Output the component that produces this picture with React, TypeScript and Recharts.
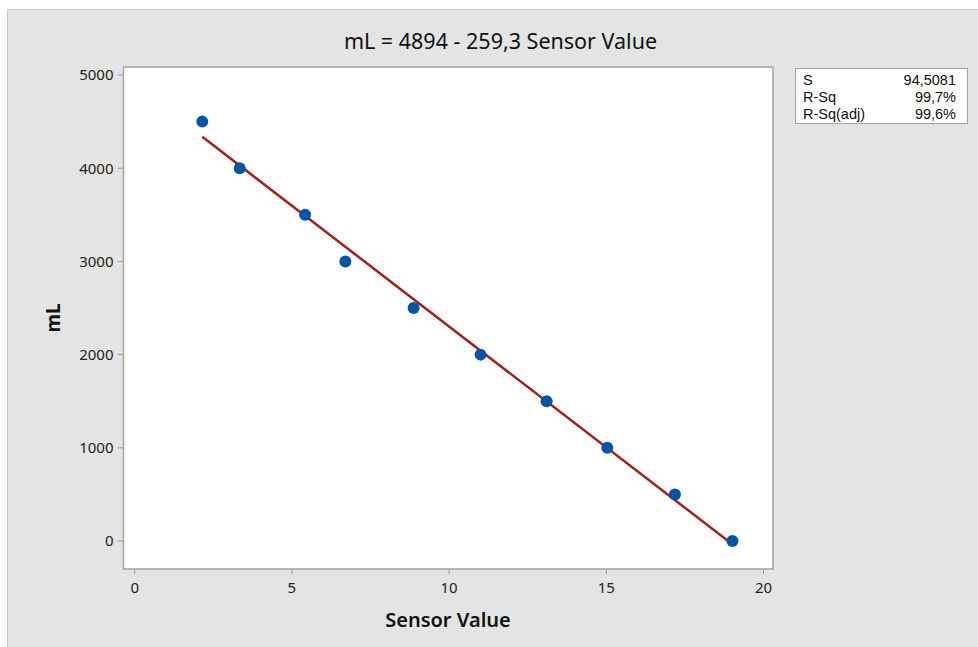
import { ComposedChart, Scatter, Line, XAxis, YAxis, ReferenceArea } from "recharts"

const sensorValues = [2.15, 3.34, 5.42, 6.7, 8.87, 11.0, 13.1, 15.03, 17.18, 19.01]
const mlValues = [4500, 4000, 3500, 3000, 2500, 2000, 1500, 1000, 500, 0]

// fitted line endpoints (mL = 4894 - 259,3 Sensor Value)
const fitSensor = [2.15, 19.01]
const fitMl = [4337, -35]

const xTicks = [0, 5, 10, 15, 20]
const yTicks = [0, 1000, 2000, 3000, 4000, 5000]

const statLabels = ["S", "R-Sq", "R-Sq(adj)"]
const statValues = ["94,5081", "99,7%", "99,6%"]

const FONT = '"Noto Sans", "Open Sans", sans-serif'

const points = sensorValues.map((x, i) => ({ x, y: mlValues[i] }))
const fitData = fitSensor.map((x, i) => ({ x, y: fitMl[i] }))

export default function App() {
  return (
    <div style={{ position: "absolute", left: 0, top: 0, width: 978, height: 647, background: "#fff", fontFamily: FONT }}>
      {/* gray panel */}
      <div
        style={{
          position: "absolute",
          left: 7,
          top: 9,
          right: 0,
          bottom: 0,
          background: "#e4e4e4",
          borderLeft: "1px solid #c9c9c9",
          borderTop: "1px solid #c9c9c9",
        }}
      />

      <div style={{ position: "absolute", left: 15, top: 26, width: 971, textAlign: "center", fontSize: 21.5, color: "#111" }}>
        mL = 4894 - 259,3 Sensor Value
      </div>

      <div style={{ position: "absolute", left: 0, top: 0 }}>
        <ComposedChart width={978} height={647} margin={{ top: 67, right: 205, bottom: 48, left: 63.5 }}>
          <XAxis
            dataKey="x"
            type="number"
            domain={[-0.356, 20.3]}
            ticks={xTicks}
            allowDataOverflow
            axisLine={false}
            tickLine={{ stroke: "#9a9a9a" }}
            tickSize={5}
            tickMargin={8}
            height={30}
            tick={{ fill: "#222", fontSize: 15, fontFamily: FONT }}
          />
          <YAxis
            dataKey="y"
            type="number"
            domain={[-300, 5086]}
            ticks={yTicks}
            allowDataOverflow
            axisLine={false}
            tickLine={{ stroke: "#9a9a9a" }}
            tickSize={6}
            tickMargin={4}
            width={60}
            tick={{ fill: "#222", fontSize: 15, fontFamily: FONT }}
          />
          <ReferenceArea x1={-0.356} x2={20.3} y1={-300} y2={5086} fill="#fff" fillOpacity={1} stroke="#a3a3a3" strokeWidth={1.5} />
          <Line
            data={fitData}
            dataKey="y"
            stroke="#a0201c"
            strokeWidth={2.5}
            dot={false}
            activeDot={false}
            isAnimationActive={false}
          />
          <Scatter
            data={points}
            dataKey="y"
            fill="#0055a8"
            isAnimationActive={false}
            shape={(p: any) => <circle cx={p.cx} cy={p.cy} r={6} fill="#0055a8" />}
          />
        </ComposedChart>
      </div>

      <div
        style={{
          position: "absolute",
          left: 30,
          top: 305,
          width: 46,
          textAlign: "center",
          transform: "rotate(-90deg)",
          fontSize: 19,
          fontWeight: 700,
          color: "#111",
        }}
      >
        mL
      </div>

      <div style={{ position: "absolute", left: 123, top: 606, width: 650, textAlign: "center", fontSize: 20, fontWeight: 600, color: "#111" }}>
        Sensor Value
      </div>

      {/* stats box */}
      <div
        style={{
          position: "absolute",
          left: 795,
          top: 68,
          width: 173,
          height: 56,
          background: "#fff",
          border: "1px solid #a3a3a3",
          boxSizing: "border-box",
          padding: "3px 11px 0 7px",
          fontFamily: '"Liberation Sans", Arial, sans-serif',
          fontSize: 14.5,
          lineHeight: "17px",
          color: "#111",
        }}
      >
        {statLabels.map((label, i) => (
          <div key={label} style={{ display: "flex", justifyContent: "space-between", height: 17 }}>
            <span>{label}</span>
            <span>{statValues[i]}</span>
          </div>
        ))}
      </div>
    </div>
  )
}
